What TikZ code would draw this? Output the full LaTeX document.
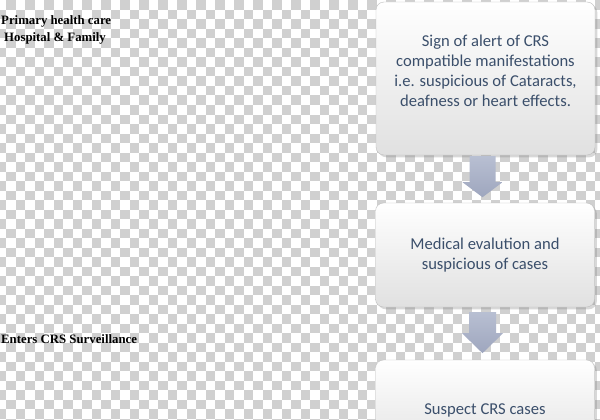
\documentclass[tikz,border=0pt]{standalone}
\usepackage{fontspec}
\setmainfont{Liberation Serif}
\newfontfamily\boxfont{Carlito}
\usetikzlibrary{shadows,calc}
\definecolor{boxtext}{RGB}{59,79,107}
\definecolor{arrowtop}{RGB}{184,191,210}
\definecolor{arrowbot}{RGB}{158,166,190}
\definecolor{checker}{RGB}{208,208,208}

\begin{document}
\begin{tikzpicture}[%
    x=1pt, y=-1pt,              % one unit per pixel, y going down
    ]
% -------------------------------------------------
% Styles for the boxes, the block arrows and the side labels
\tikzset{
  stage/.style={draw=gray!50, rounded corners=8pt, top color=white,
    bottom color=gray!24, drop shadow={opacity=0.3}, minimum width=219pt,
    align=center, text=boxtext, font=\boxfont\fontsize{16.6}{20}\selectfont},
  flow/.style={top color=arrowtop, bottom color=arrowbot},
  level/.style={anchor=north west, inner sep=0pt, align=left,
    font=\bfseries\fontsize{12.8}{17}\selectfont}
}
\useasboundingbox (0,0) rectangle (600,420);
\clip (0,0) rectangle (600,420);
% -------------------------------------------------
% Checkered background
\fill[white] (0,0) rectangle (600,420);
\foreach \i in {0,...,63} {
  \foreach \j in {0,...,22} {
    \fill[checker] ({-3.5+9.5*\i},{0.5+9.5*(2*\j+mod(\i+1,2))})
      rectangle +(9.5,9.5);
  }
}
% -------------------------------------------------
% Side labels
\node [level] (primary) at (1,15) {Primary health care\\\hspace{3pt}Hospital \& Family};
\node [level] (enters) at (1,334) {Enters CRS Surveillance};

% Flow boxes
\node [stage, minimum height=153pt] (sign) at (485.5,78.5)
  {Sign of alert of CRS\\compatible manifestations\\i.e. suspicious of Cataracts,\\deafness or heart effects.\\[-4pt]};
\node [stage, minimum height=104pt] (medical) at (485,255)
  {Medical evalution and\\suspicious of cases};
\node [stage, minimum height=100pt] (suspect) at (485,410)
  {Suspect CRS cases};

% Block arrows between the boxes
\path [flow] ($(sign.south)+(-16,1)$) -- ++(26,0) -- ++(0,26) -- ++(7,0)
  -- ++(-20,15) -- ++(-20,-15) -- ++(7,0) -- cycle;
\path [flow] ($(medical.south)+(-16,5)$) -- ++(27,0) -- ++(0,21) -- ++(7,0)
  -- ++(-20.5,20) -- ++(-20.5,-20) -- ++(7,0) -- cycle;
% -------------------------------------------------
\end{tikzpicture}
\end{document}
